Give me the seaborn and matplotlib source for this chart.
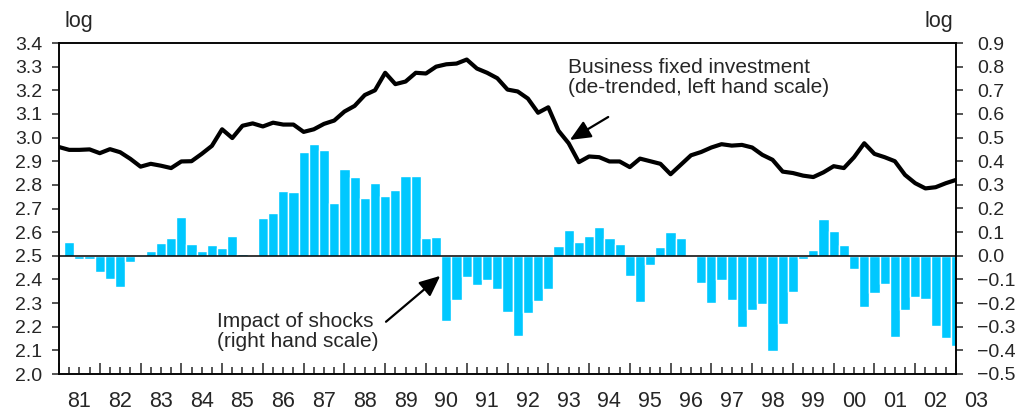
import numpy as np
import matplotlib
matplotlib.use('Agg')
import matplotlib.pyplot as plt
import matplotlib.transforms as mtransforms
from matplotlib.ticker import FixedLocator, FuncFormatter
import seaborn as sns

start_year = 1981
end_year = 2003

# business fixed investment, de-trended (left scale), quarterly from 1981Q1 edge
investment = [2.96, 2.948, 2.948, 2.95, 2.934, 2.951, 2.938, 2.91, 2.877, 2.889,
              2.881, 2.871, 2.899, 2.9, 2.931, 2.965, 3.035, 2.998, 3.05, 3.06,
              3.047, 3.063, 3.055, 3.055, 3.024, 3.035, 3.058, 3.072, 3.11, 3.134,
              3.18, 3.2, 3.274, 3.226, 3.237, 3.274, 3.271, 3.3, 3.31, 3.313,
              3.33, 3.292, 3.274, 3.251, 3.203, 3.195, 3.165, 3.105, 3.128, 3.029,
              2.976, 2.896, 2.92, 2.917, 2.899, 2.899, 2.875, 2.911, 2.9, 2.889,
              2.845, 2.885, 2.925, 2.939, 2.958, 2.972, 2.966, 2.969, 2.958, 2.927,
              2.906, 2.856, 2.85, 2.839, 2.833, 2.853, 2.879, 2.871, 2.917, 2.976,
              2.931, 2.917, 2.9, 2.842, 2.807, 2.785, 2.79, 2.807, 2.821]

# impact of shocks (right scale), one bar per quarter
shocks = [0.059, -0.015, -0.015, -0.07, -0.10, -0.13, -0.025, 0.004, 0.021, 0.055,
          0.076, 0.165, 0.051, 0.021, 0.046, 0.034, 0.085, 0.008, 0.004, 0.16,
          0.182, 0.275, 0.27, 0.44, 0.473, 0.448, 0.224, 0.368, 0.334, 0.245,
          0.308, 0.254, 0.279, 0.338, 0.338, 0.076, 0.08, -0.277, -0.186, -0.089,
          -0.122, -0.101, -0.139, -0.238, -0.341, -0.244, -0.19, -0.139, 0.042, 0.11,
          0.059, 0.085, 0.123, 0.076, 0.051, -0.087, -0.197, -0.037, 0.038, 0.101,
          0.076, 0.0, -0.113, -0.201, -0.104, -0.189, -0.303, -0.231, -0.206, -0.404,
          -0.29, -0.155, -0.015, 0.025, 0.156, 0.106, 0.046, -0.058, -0.218, -0.159,
          -0.121, -0.345, -0.231, -0.176, -0.184, -0.299, -0.349, -0.383]

year_labels = [str(y)[-2:] for y in range(start_year, end_year + 1)]

line_x = start_year + np.arange(len(investment)) / 4
bar_x = start_year + (np.arange(len(shocks)) + 1) / 4

sns.set_style('ticks')
plt.rcParams['font.family'] = ['Liberation Sans', 'DejaVu Sans']
plt.rcParams['axes.linewidth'] = 1.1

fig = plt.figure(figsize=(10.25, 4.15), dpi=100)
ax = fig.add_axes([59 / 1025, 1 - 374 / 415, (956 - 59) / 1025, (374 - 43) / 415])
ax2 = ax.twinx()

sns.barplot(x=bar_x, y=shocks, native_scale=True, width=1.0, color='#00c8ff',
            saturation=1, errorbar=None, ax=ax2, zorder=2)
ax2.axhline(0, color='black', lw=1.1, zorder=3)

sns.lineplot(x=line_x, y=investment, color='black', lw=3.0, ax=ax)
ax.set_zorder(ax2.get_zorder() + 1)
ax.patch.set_visible(False)

ax.set_xlim(start_year, end_year)
ax.set_ylim(2.0, 3.4)
ax2.set_ylim(-0.5, 0.9)

ax.yaxis.set_major_locator(FixedLocator(np.round(np.arange(2.0, 3.41, 0.1), 1)))
ax2.yaxis.set_major_locator(FixedLocator(np.round(np.arange(-0.5, 0.91, 0.1), 1)))
fmt = FuncFormatter(lambda v, p: f'{round(v, 1) + 0.0:.1f}'.replace('-', '\u2212'))
ax.yaxis.set_major_formatter(fmt)
ax2.yaxis.set_major_formatter(fmt)
ax.tick_params(axis='y', direction='out', length=5, width=1.1, labelsize=14, pad=7)
ax2.tick_params(axis='y', direction='out', length=5, width=1.1, labelsize=14, pad=10)

ax.xaxis.set_major_locator(FixedLocator(range(start_year, end_year + 1)))
ax.xaxis.set_minor_locator(FixedLocator(np.arange(start_year, end_year, 0.25)))
ax.tick_params(axis='x', which='major', direction='in', length=8, width=1.1,
               labelbottom=False)
ax.tick_params(axis='x', which='minor', direction='in', length=5, width=1.1)
ax.set_xlabel('')
ax.set_ylabel('')
ax2.set_ylabel('')

for side in ['top', 'bottom', 'left', 'right']:
    ax.spines[side].set_visible(True)
    ax2.spines[side].set_visible(True)
    ax.spines[side].set_color('black')
    ax2.spines[side].set_color('black')

trans = mtransforms.blended_transform_factory(ax.transData, ax.transAxes)
for i, lab in enumerate(year_labels):
    ax.text(start_year + i + 0.5, -0.082, lab, transform=trans, ha='center',
            va='center', fontsize=15.5, clip_on=False)

fig.text(64 / 1025, 1 - 27 / 415, 'log', fontsize=15.5, va='baseline', ha='left')
fig.text(953 / 1025, 1 - 27 / 415, 'log', fontsize=15.5, va='baseline', ha='right')

arrow = dict(arrowstyle='-|>,head_length=0.9,head_width=0.4', color='black',
             lw=1.6, mutation_scale=14, shrinkA=0, shrinkB=0)
ax.text(1993.48, 3.337, 'Business fixed investment\n(de-trended, left hand scale)',
        fontsize=15, ha='left', va='top', linespacing=1.1)
ax.annotate('', xy=(1993.53, 2.99), xytext=(1994.47, 3.087), arrowprops=arrow)

ax.text(1984.88, 2.263, 'Impact of shocks\n(right hand scale)',
        fontsize=15, ha='left', va='top', linespacing=1.1)
ax.annotate('', xy=(1990.35, 2.415), xytext=(1989.02, 2.221), arrowprops=arrow)

fig.savefig('out.png', dpi=100)
